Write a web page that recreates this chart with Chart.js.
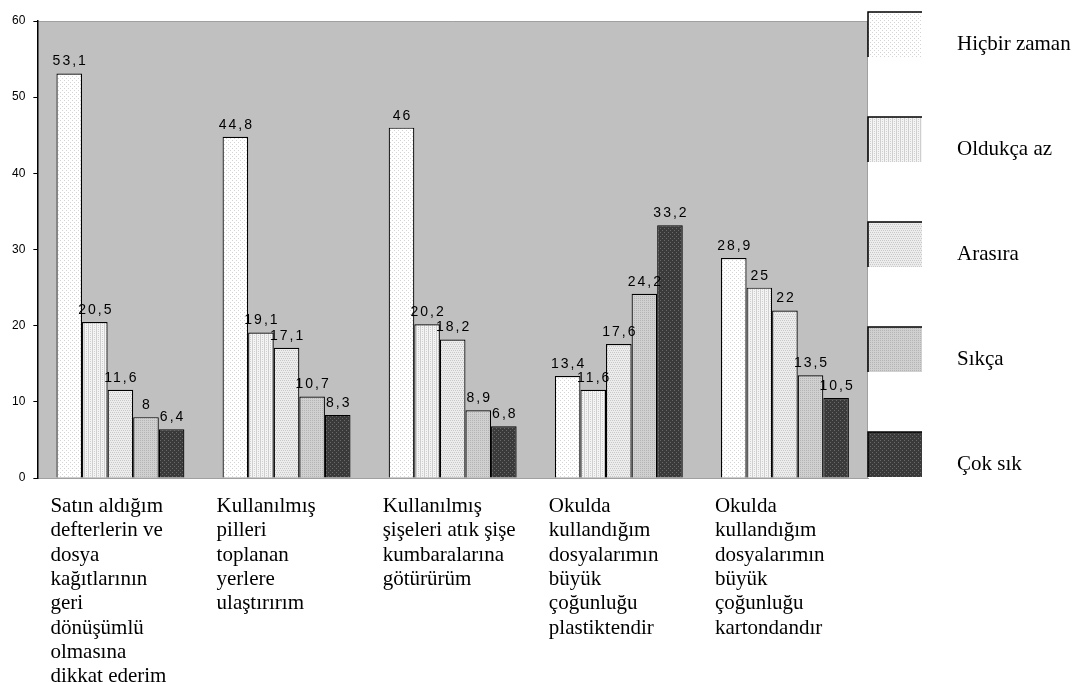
<!DOCTYPE html>
<html>
<head>
<meta charset="utf-8">
<script src="https://cdn.jsdelivr.net/npm/chart.js@4/dist/chart.umd.min.js"></script>
<style>
  body { margin: 0; background: #fff; }
  #wrap { width: 1074px; height: 682px; }
</style>
</head>
<body>
<div id="wrap"><canvas id="myChart"></canvas></div>
<script>
const categories = [
  ['Satın aldığım', 'defterlerin ve', 'dosya', 'kağıtlarının', 'geri', 'dönüşümlü', 'olmasına', 'dikkat ederim'],
  ['Kullanılmış', 'pilleri', 'toplanan', 'yerlere', 'ulaştırırım'],
  ['Kullanılmış', 'şişeleri atık şişe', 'kumbaralarına', 'götürürüm'],
  ['Okulda', 'kullandığım', 'dosyalarımın', 'büyük', 'çoğunluğu', 'plastiktendir'],
  ['Okulda', 'kullandığım', 'dosyalarımın', 'büyük', 'çoğunluğu', 'kartondandır']
]
const seriesNames = ['Hiçbir zaman', 'Oldukça az', 'Arasıra', 'Sıkça', 'Çok sık']
const hicbir = [53.1, 44.8, 46, 13.4, 28.9]
const oldukca = [20.5, 19.1, 20.2, 11.6, 25]
const arasira = [11.6, 17.1, 18.2, 17.6, 22]
const sikca = [8, 10.7, 8.9, 24.2, 13.5]
const coksik = [6.4, 8.3, 6.8, 33.2, 10.5]
const yTicks = [0, 10, 20, 30, 40, 50, 60]

// small dotted fills like the old office patterns
function pattern(base, dot, cells) {
  const c = document.createElement('canvas')
  c.width = 4; c.height = 4
  const g = c.getContext('2d')
  g.fillStyle = base
  g.fillRect(0, 0, 4, 4)
  g.fillStyle = dot
  cells.forEach(p => g.fillRect(p[0], p[1], 1, 1))
  return g.createPattern(c, 'repeat')
}
const fills = [
  pattern('#ffffff', '#d4d4d4', [[0, 0], [2, 2]]),
  pattern('#f4f4f4', '#cfcfcf', [[0, 0], [0, 1], [0, 2], [0, 3], [2, 1], [2, 3]]),
  pattern('#ececec', '#c8c8c8', [[0, 0], [2, 0], [1, 2], [3, 2]]),
  pattern('#d0d0d0', '#b4b4b4', [[0, 0], [2, 0], [0, 2], [2, 2]]),
  pattern('#3a3a3a', '#6a6a6a', [[0, 0], [2, 2]])
]
const values = [hicbir, oldukca, arasira, sikca, coksik]

const serif = '"Liberation Serif", "Times New Roman", serif'

const plotBg = {
  id: 'plotBg',
  beforeDraw(chart) {
    const { ctx, chartArea: a } = chart
    ctx.save()
    ctx.fillStyle = '#c0c0c0'
    ctx.fillRect(a.left, a.top, a.right - a.left, a.bottom - a.top)
    ctx.strokeStyle = '#a0a0a0'
    ctx.lineWidth = 1
    ctx.beginPath()
    ctx.moveTo(a.left, a.top + 0.5)
    ctx.lineTo(a.right - 0.5, a.top + 0.5)
    ctx.lineTo(a.right - 0.5, a.bottom)
    ctx.stroke()
    ctx.restore()
  }
}

const valueLabels = {
  id: 'valueLabels',
  afterDatasetsDraw(chart) {
    const ctx = chart.ctx
    ctx.save()
    ctx.font = '14px Arial, "Liberation Sans"'
    ctx.letterSpacing = '2px'
    ctx.fillStyle = '#000'
    ctx.textAlign = 'center'
    ctx.textBaseline = 'bottom'
    chart.data.datasets.forEach((ds, i) => {
      chart.getDatasetMeta(i).data.forEach((bar, j) => {
        ctx.fillText(String(ds.data[j]).replace('.', ','), bar.x + 1, bar.y - 5)
      })
    })
    ctx.restore()
  }
}

const sideLegend = {
  id: 'sideLegend',
  afterDraw(chart) {
    const { ctx, chartArea: a } = chart
    ctx.save()
    chart.data.datasets.forEach((ds, i) => {
      const x = a.right
      const y = 12 + i * 105
      ctx.fillStyle = ds.backgroundColor
      ctx.fillRect(x, y, 54, 45)
      ctx.strokeStyle = '#000'
      ctx.lineWidth = 1.5
      ctx.beginPath()
      ctx.moveTo(x, y + 45)
      ctx.lineTo(x, y)
      ctx.lineTo(x + 54, y)
      ctx.stroke()
      ctx.fillStyle = '#000'
      ctx.font = '21px ' + serif
      ctx.textBaseline = 'middle'
      ctx.fillText(ds.label, x + 89, y + 32)
    })
    ctx.restore()
  }
}

const ctx = document.getElementById('myChart').getContext('2d')

new Chart(ctx, {
  type: 'bar',
  data: {
    labels: categories,
    datasets: seriesNames.map((name, i) => ({
      label: name,
      data: values[i],
      backgroundColor: fills[i],
      borderColor: '#000',
      borderWidth: 1.2,
      barPercentage: 1,
      categoryPercentage: 0.77
    }))
  },
  options: {
    responsive: true,
    maintainAspectRatio: false,
    animation: false,
    layout: { padding: { top: 21, left: 4, right: 206, bottom: -15 } },
    plugins: {
      legend: { display: false },
      tooltip: { enabled: false }
    },
    scales: {
      x: {
        grid: { display: false },
        border: { color: '#a0a0a0' },
        ticks: {
          autoSkip: false,
          maxRotation: 0,
          minRotation: 0,
          align: 'start',
          labelOffset: -70,
          padding: 8,
          color: '#000',
          font: { family: serif, size: 21, lineHeight: 1.16 }
        }
      },
      y: {
        min: 0,
        max: 60,
        afterBuildTicks(axis) { axis.ticks = yTicks.map(v => ({ value: v })) },
        grid: { drawOnChartArea: false, color: '#000', tickLength: 4 },
        border: { color: '#000', width: 1.5 },
        ticks: {
          padding: 8,
          color: '#000',
          font: { family: 'Arial, "Liberation Sans"', size: 12 }
        }
      }
    }
  },
  plugins: [plotBg, valueLabels, sideLegend]
})
</script>
</body>
</html>
